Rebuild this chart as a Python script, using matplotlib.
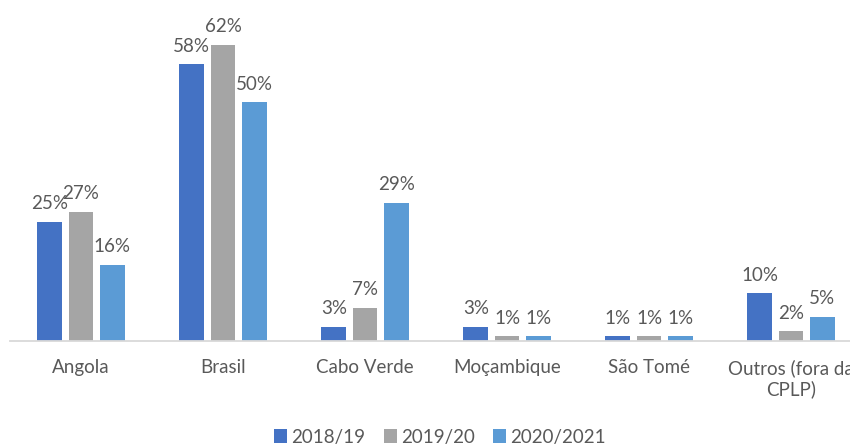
import matplotlib
matplotlib.use("Agg")
import matplotlib.pyplot as plt
import numpy as np

categories = ["Angola", "Brasil", "Cabo Verde", "Moçambique", "São Tomé", "Outros (fora da\nCPLP)"]
series_names = ["2018/19", "2019/20", "2020/2021"]
v2018 = [25, 58, 3, 3, 1, 10]
v2019 = [27, 62, 7, 1, 1, 2]
v2020 = [16, 50, 29, 1, 1, 5]
colors = ["#4472C4", "#A5A5A5", "#5B9BD5"]

plt.rcParams['font.family'] = ['Lato', 'DejaVu Sans']
txt = "#595959"
fs = 13.5

fig = plt.figure(figsize=(8.5, 4.48), dpi=100)
ax = fig.add_axes([10/850, (448-341)/448, 852/850, (341-7)/448])

x = np.arange(len(categories))
pitch = 0.22
width = 0.176
for k, (vals, name, c) in enumerate(zip([v2018, v2019, v2020], series_names, colors)):
    pos = x + (k - 1) * pitch
    ax.bar(pos, vals, width, color=c, label=name)
    for p, v in zip(pos, vals):
        ax.annotate(f"{v}%", (p, v), xytext=(0, 7), textcoords="offset points",
                    ha="center", va="bottom", fontsize=fs, color=txt)

ax.set_xlim(-0.5, len(categories) - 0.5)
ax.set_ylim(0, 70)
ax.set_yticks([])
ax.set_xticks(x)
ax.set_xticklabels(categories, fontsize=fs, color=txt, linespacing=1.25)
ax.tick_params(axis='x', length=0, pad=13)
for s in ["top", "right", "left"]:
    ax.spines[s].set_visible(False)
ax.spines["bottom"].set_color("#D9D9D9")
ax.spines["bottom"].set_linewidth(1.3)

handles, labels = ax.get_legend_handles_labels()
leg = fig.legend(handles, labels, loc="center", bbox_to_anchor=(440/850, 1 - 437/448),
                 ncol=3, frameon=False, fontsize=fs, handlelength=0.7, handleheight=0.7,
                 handletextpad=0.2, columnspacing=1.0, borderaxespad=0)
for t in leg.get_texts():
    t.set_color(txt)

fig.savefig("out.png", dpi=100)
